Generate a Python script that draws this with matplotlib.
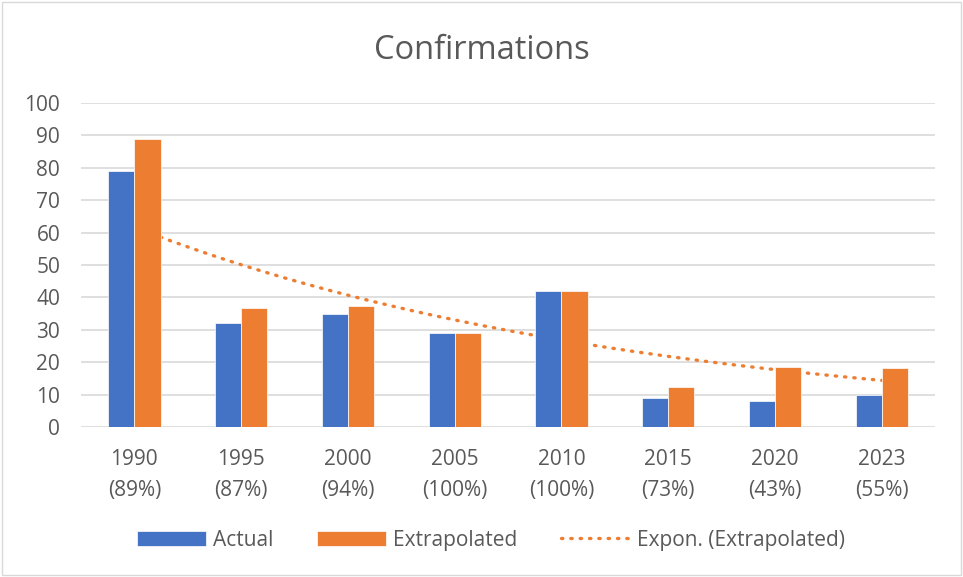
import numpy as np
import matplotlib.pyplot as plt

# Data
years = ['1990', '1995', '2000', '2005', '2010', '2015', '2020', '2023']
shares = ['89%', '87%', '94%', '100%', '100%', '73%', '43%', '55%']
actual = [79, 32, 35, 29, 42, 9, 8, 10]
extrapolated = [89, 36.8, 37.2, 29, 42, 12.3, 18.6, 18.2]

blue = '#4472C4'
orange = '#ED7D31'
txt = '#595959'

plt.rcParams['font.family'] = ['Open Sans', 'DejaVu Sans']

fig = plt.figure(figsize=(9.63, 5.77), dpi=100)
ax = fig.add_axes([0.0841, 0.26, 0.887, 0.5615])

x = np.arange(1, len(years) + 1)
w = 0.245
b1 = ax.bar(x - w / 2, actual, w, color=blue, edgecolor='white', linewidth=0.5, label='Actual', zorder=3)
b2 = ax.bar(x + w / 2, extrapolated, w, color=orange, edgecolor='white', linewidth=0.5, label='Extrapolated', zorder=3)

# exponential trendline (least squares on log values, like Excel)
b, a = np.polyfit(x, np.log(extrapolated), 1)
xt = np.linspace(1, len(years), 200)
tl, = ax.plot(xt, np.exp(a + b * xt), color=orange, linestyle=(0, (0.4, 2.4)), linewidth=2.4,
              dash_capstyle='round', label='Expon. (Extrapolated)', zorder=2)

ax.set_xlim(0.5, len(years) + 0.5)
ax.set_ylim(0, 100)
ax.set_yticks(range(0, 101, 10))
ax.set_xticks(x)
ax.set_xticklabels([f'{y}\n({s})' for y, s in zip(years, shares)], linespacing=1.6)
ax.tick_params(axis='both', length=0, labelsize=15, colors=txt)
ax.tick_params(axis='x', pad=16)
ax.tick_params(axis='y', pad=15)
ax.grid(axis='y', color='#D9D9D9', linewidth=1.2, zorder=0)
for s in ax.spines.values():
    s.set_visible(False)

fig.text(0.5, 0.912, 'Confirmations', ha='center', va='center', fontsize=23.5, color=txt)

fig.legend(handles=[b1, b2, tl], loc='center', bbox_to_anchor=(0.51, 0.064), ncol=3, frameon=False,
           fontsize=15, labelcolor=txt, handlelength=3.3, handleheight=0.7, columnspacing=2.1,
           handletextpad=0.35)

fig.patches.append(plt.Rectangle((0.002, 0.003), 0.996, 0.994, transform=fig.transFigure,
                                 fill=False, edgecolor='#D9D9D9', linewidth=1))

fig.savefig('out.png', dpi=100)
